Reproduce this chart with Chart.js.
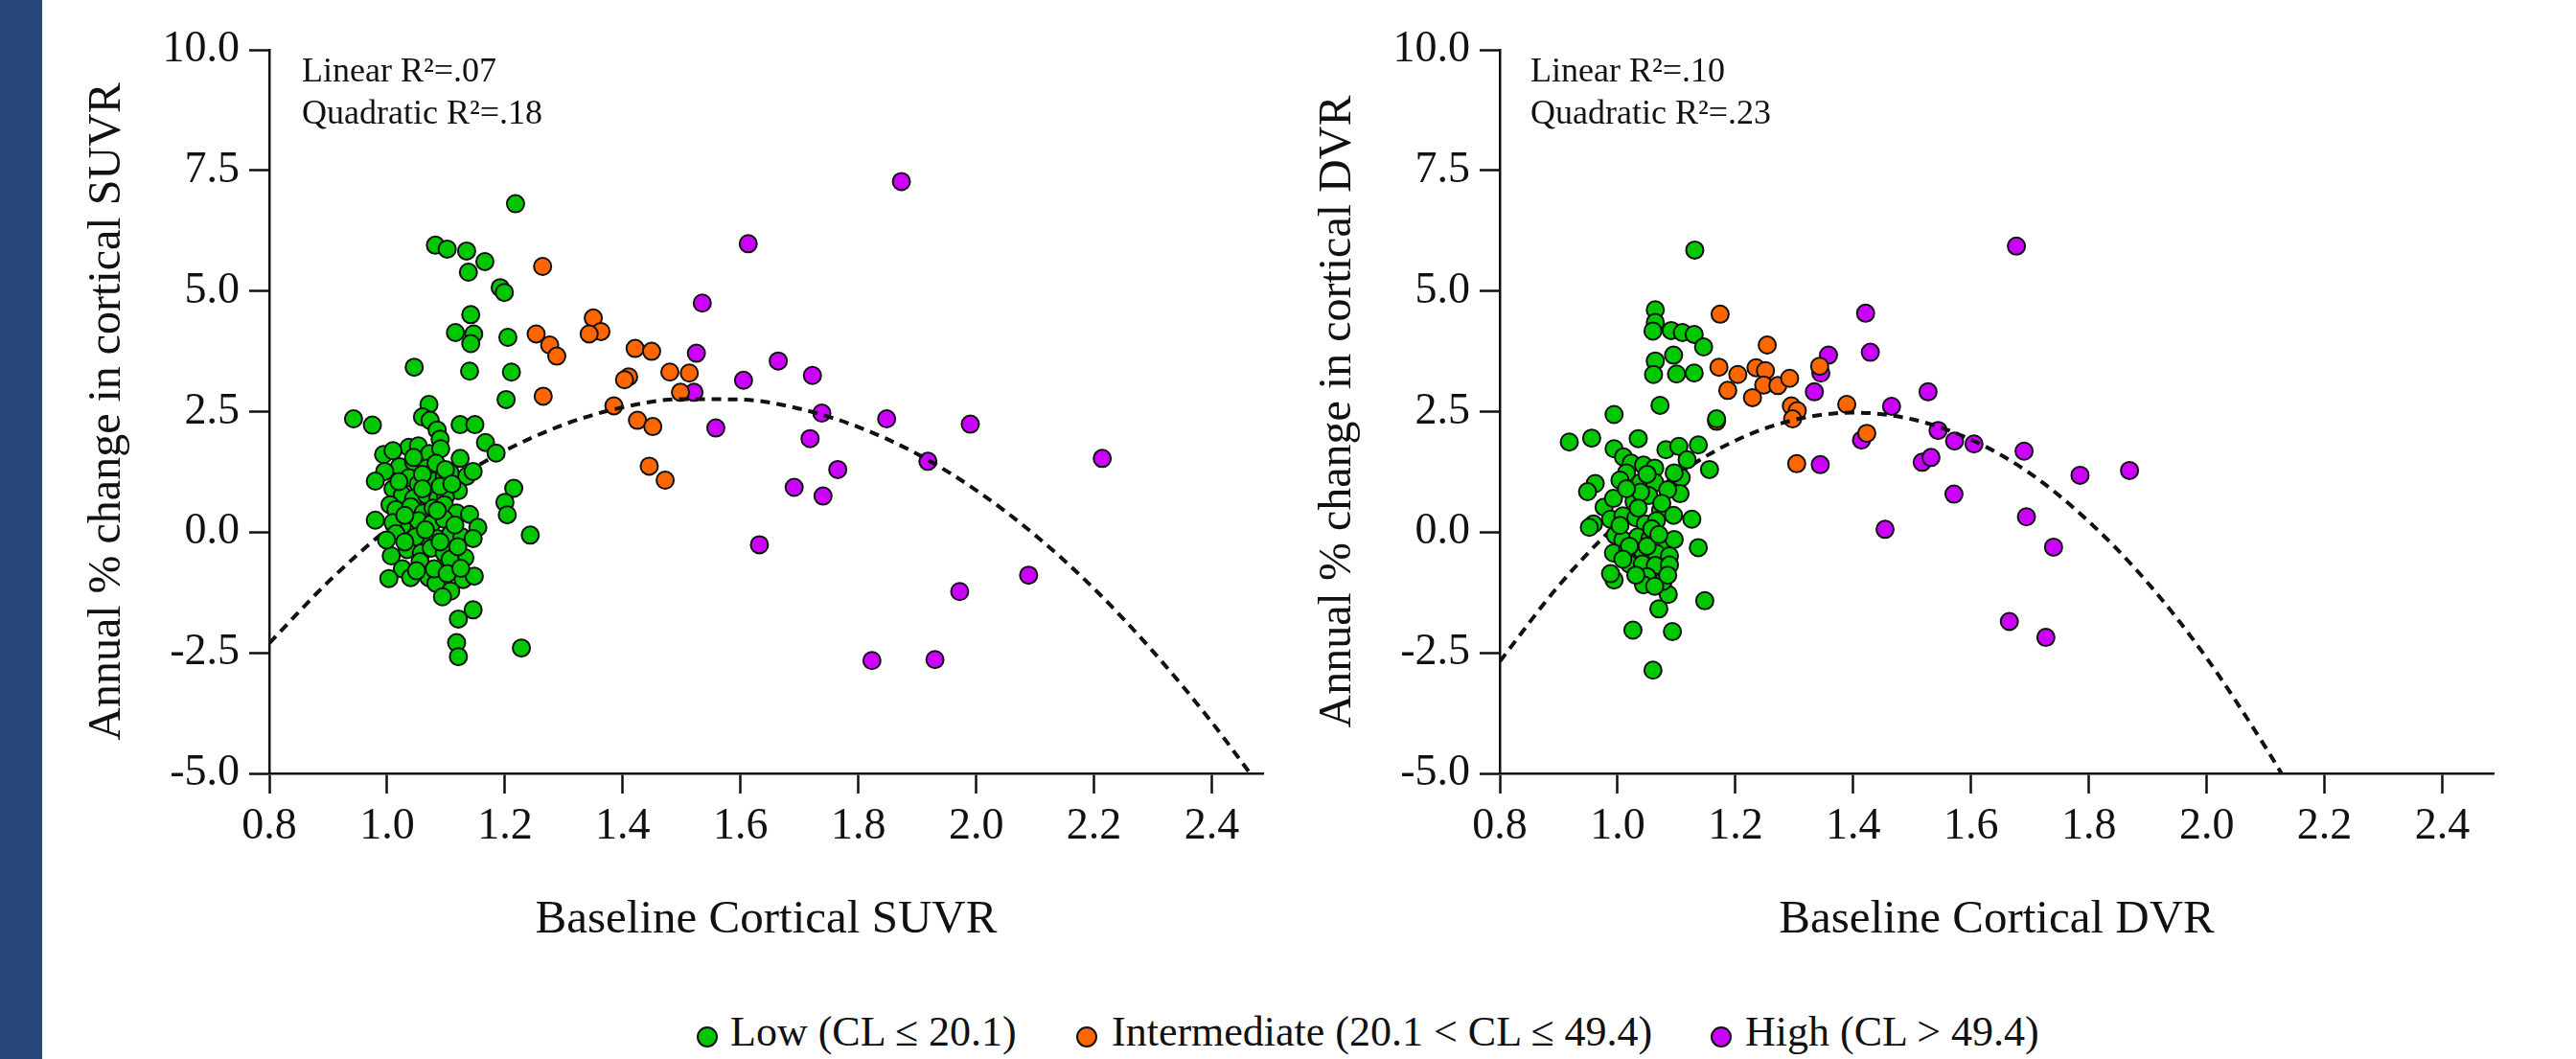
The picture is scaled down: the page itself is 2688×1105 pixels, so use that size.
<!DOCTYPE html>
<html><head><meta charset="utf-8">
<script src="https://cdn.jsdelivr.net/npm/chart.js@4.4.1/dist/chart.umd.min.js"></script>
<style>
html,body{margin:0;padding:0;background:#fff;}
body{width:2688px;height:1105px;position:relative;overflow:hidden;font-family:'Liberation Serif','Times New Roman',serif;color:#111;}
#bar{position:absolute;left:0;top:0;width:44px;height:1105px;background:#27467a;}
canvas{position:absolute;top:0;}
#c1{left:0;}
#c2{left:1284px;}
.ann{position:absolute;font-size:36px;line-height:36px;white-space:nowrap;}
.leg{position:absolute;top:1055px;font-size:44px;line-height:44px;white-space:nowrap;}
.dot{position:absolute;top:1071px;width:18px;height:18px;border:2px solid #111;border-radius:50%;}
</style></head>
<body>
<div id="bar"></div>
<canvas id="c1" width="1340" height="1005"></canvas>
<canvas id="c2" width="1340" height="1005"></canvas>
<div class="ann" style="left:315px;top:55px;">Linear R²=.07</div>
<div class="ann" style="left:315px;top:99px;">Quadratic R²=.18</div>
<div class="ann" style="left:1597px;top:55px;">Linear R²=.10</div>
<div class="ann" style="left:1597px;top:99px;">Quadratic R²=.23</div>
<div class="dot" style="left:727px;background:#00c800;"></div>
<div class="leg" style="left:762px;">Low (CL ≤ 20.1)</div>
<div class="dot" style="left:1123px;background:#ff6600;"></div>
<div class="leg" style="left:1160px;">Intermediate (20.1 &lt; CL ≤ 49.4)</div>
<div class="dot" style="left:1785px;background:#cc00ff;"></div>
<div class="leg" style="left:1821px;">High (CL &gt; 49.4)</div>
<script>
// ---------- data ----------
const xTickValues = [0.8, 1.0, 1.2, 1.4, 1.6, 1.8, 2.0, 2.2, 2.4];
const yTickValues = [-5.0, -2.5, 0.0, 2.5, 5.0, 7.5, 10.0];
const groupLabels = ['Low (CL ≤ 20.1)', 'Intermediate (20.1 < CL ≤ 49.4)', 'High (CL > 49.4)'];

// Left panel: baseline cortical SUVR
const suvrLowX = [1.218,1.082,1.102,1.135,1.166,1.138,1.192,1.199,1.142,1.116,1.147,1.142,1.205,1.046,1.140,1.211,1.202,1.071,1.060,1.073,0.943,0.975,1.124,1.149,1.085,1.167,1.185,1.090,0.994,1.037,1.053,1.072,1.091,1.021,1.045,1.067,0.996,0.980,1.037,1.053,1.078,1.097,1.135,1.146,1.121,1.010,1.026,1.045,1.067,1.086,1.099,1.005,1.015,1.040,1.061,1.078,1.097,0.980,1.026,1.010,1.118,1.140,1.154,1.053,1.075,1.097,1.061,1.086,1.108,1.127,1.146,1.048,1.034,1.058,1.075,1.007,1.097,1.113,1.132,1.107,1.056,1.026,1.040,1.003,1.071,1.083,1.129,1.148,1.108,1.094,1.146,1.121,1.118,1.121,1.228,1.215,1.200,1.204,1.243,1.124,1.107,1.010,1.083,1.099,1.015,0.999,1.080,1.102,1.020,1.060,1.030,1.090,1.065,1.030,1.115,1.050,1.090,1.120,1.085,1.045,1.110,1.060,1.125];
const suvrLowY = [6.81,5.95,5.87,5.83,5.61,5.39,5.07,4.97,4.51,4.14,4.11,3.91,4.04,3.42,3.34,3.32,2.75,2.65,2.39,2.32,2.35,2.22,2.23,2.23,2.12,1.86,1.64,1.93,1.61,1.76,1.79,1.63,1.73,1.36,1.46,1.33,1.26,1.06,1.13,1.00,1.06,1.16,1.16,1.26,0.86,0.90,0.77,0.70,0.77,0.70,0.73,0.57,0.47,0.53,0.40,0.50,0.57,0.25,0.14,0.20,0.40,0.37,0.10,0.24,0.17,0.27,-0.19,-0.13,-0.03,-0.10,-0.13,-0.10,-0.36,-0.43,-0.33,-0.49,-0.43,-0.66,-0.53,-0.56,-0.61,-0.76,-0.94,-0.96,-0.94,-1.06,-0.98,-0.91,-1.22,-1.34,-1.61,-1.80,-2.29,-2.58,-2.40,0.91,0.62,0.36,-0.06,1.53,1.23,1.69,1.43,1.30,-0.03,-0.16,-0.76,-0.86,1.05,1.20,0.35,0.95,0.05,-0.20,0.15,-0.80,-0.20,-0.30,0.45,1.55,1.00,0.90,-0.75];
const suvrMidX = [1.264,1.350,1.363,1.343,1.253,1.276,1.288,1.421,1.449,1.480,1.513,1.410,1.403,1.265,1.498,1.385,1.425,1.451,1.445,1.472];
const suvrMidY = [5.51,4.44,4.16,4.11,4.11,3.88,3.65,3.81,3.75,3.32,3.30,3.22,3.16,2.82,2.90,2.62,2.32,2.19,1.37,1.08];
const suvrHighX = [1.873,1.613,1.535,1.525,1.664,1.722,1.605,1.521,1.738,1.848,1.990,1.558,1.718,1.918,2.214,1.765,1.691,1.740,1.632,2.089,1.972,1.823,1.930];
const suvrHighY = [7.27,5.98,4.75,3.71,3.55,3.25,3.15,2.90,2.47,2.35,2.24,2.16,1.94,1.47,1.53,1.30,0.93,0.75,-0.26,-0.89,-1.23,-2.66,-2.64];
const suvrFitX = [0.8,0.9,1.0,1.1,1.2,1.3,1.4,1.5,1.6,1.7,1.8,1.9,2.0,2.1,2.2,2.3,2.4,2.465];
const suvrFitY = [-2.30,-1.03,0.06,0.97,1.69,2.23,2.59,2.76,2.75,2.56,2.18,1.62,0.87,-0.06,-1.17,-2.47,-3.94,-5.0];

// Right panel: baseline cortical DVR
const dvrLowX = [1.131,1.064,1.064,1.060,1.091,1.110,1.130,1.146,1.095,1.064,1.061,1.100,1.130,1.072,0.994,1.168,0.918,0.956,1.035,0.994,1.082,1.104,1.137,1.118,1.156,1.108,1.106,1.126,1.137,1.148,1.070,1.026,1.093,1.060,1.086,0.994,0.962,0.949,0.959,0.977,1.010,1.023,1.044,1.063,1.015,1.096,1.004,1.039,1.063,1.085,0.993,1.028,1.053,1.073,0.952,0.988,1.009,1.031,1.047,1.066,0.996,1.009,1.034,1.055,1.077,1.096,0.993,1.017,1.042,1.066,1.088,1.020,1.042,1.064,1.088,0.988,1.050,1.077,1.044,1.031,1.004,1.058,1.020,1.050,1.009,1.063,1.085,1.039,1.015,1.050,1.075,1.095,1.035,1.070];
const dvrLowY = [5.85,4.61,4.35,4.17,4.18,4.14,4.10,3.84,3.67,3.55,3.27,3.28,3.30,2.63,2.44,2.35,1.87,1.95,1.94,1.73,1.71,1.78,1.81,1.50,1.30,1.13,0.80,0.27,-0.32,-1.42,-1.59,-2.03,-2.06,-2.86,-1.29,-0.99,1.01,0.84,0.17,0.52,1.56,1.43,1.39,1.33,1.23,1.23,1.08,1.03,1.03,0.88,0.70,0.63,0.76,0.45,0.10,0.27,0.34,0.30,0.17,0.24,-0.06,-0.16,-0.10,-0.13,-0.19,-0.15,-0.43,-0.36,-0.39,-0.44,-0.49,-0.66,-0.66,-0.69,-0.68,-0.86,-0.92,-1.02,-1.09,-0.89,0.14,0.07,-0.29,-0.29,-0.56,-1.12,-0.89,0.83,0.90,1.20,0.60,0.35,0.50,-0.05];
const dvrMidX = [1.174,1.254,1.172,1.204,1.235,1.251,1.187,1.248,1.272,1.292,1.229,1.295,1.305,1.297,1.168,1.389,1.343,1.423,1.304];
const dvrMidY = [4.52,3.88,3.42,3.27,3.41,3.35,2.94,3.05,3.04,3.19,2.79,2.62,2.52,2.35,2.30,2.65,3.44,2.05,1.42];
const dvrHighX = [1.677,1.421,1.429,1.358,1.345,1.334,1.527,1.465,1.544,1.572,1.605,1.690,1.414,1.344,1.517,1.532,1.785,1.869,1.571,1.694,1.454,1.740,1.665,1.727];
const dvrHighY = [5.93,4.54,3.73,3.67,3.30,2.91,2.91,2.61,2.11,1.89,1.83,1.68,1.91,1.40,1.45,1.55,1.18,1.28,0.79,0.32,0.06,-0.31,-1.85,-2.18];
const dvrFitX = [0.8,0.9,1.0,1.1,1.2,1.3,1.4,1.5,1.6,1.7,1.8,1.9,2.0,2.1,2.127];
const dvrFitY = [-2.68,-1.11,0.18,1.18,1.90,2.33,2.48,2.34,1.92,1.22,0.22,-1.05,-2.61,-4.46,-5.0];

// ---------- drawing ----------
const FONT = "'Liberation Serif', 'Times New Roman', serif";
const INK = '#111111';
const zip = (xs, ys) => xs.map((x, i) => ({x: x, y: ys[i]}));

function pointSet(label, xs, ys, color, order) {
  return {type: 'scatter', label: label, data: zip(xs, ys), order: order,
    backgroundColor: color, borderColor: INK, pointRadius: 9, pointHoverRadius: 9,
    pointBorderWidth: 2, pointStyle: 'circle'};
}

function makeChart(id, low, mid, high, fit, xTitle, yTitle) {
  new Chart(document.getElementById(id), {
    type: 'scatter',
    data: {datasets: [
      pointSet(groupLabels[0], low[0], low[1], '#00c800', 0),
      {type: 'line', label: 'Quadratic fit', data: zip(fit[0], fit[1]), order: 1,
        borderColor: INK, borderWidth: 4, borderDash: [10, 7], pointRadius: 0,
        fill: false, cubicInterpolationMode: 'monotone'},
      pointSet(groupLabels[1], mid[0], mid[1], '#ff6600', 2),
      pointSet(groupLabels[2], high[0], high[1], '#cc00ff', 3)
    ]},
    options: {
      responsive: false, animation: false, devicePixelRatio: 1,
      layout: {padding: {left: 0, top: 52, right: 22, bottom: 0}},
      plugins: {legend: {display: false}, tooltip: {enabled: false}},
      scales: {
        x: {type: 'linear', min: 0.8, max: 2.487,
          afterBuildTicks: s => { s.ticks = xTickValues.map(v => ({value: v})); },
          afterFit: s => { s.height = 198; },
          border: {display: true, color: INK, width: 2.5},
          grid: {display: true, drawOnChartArea: false, drawTicks: true, tickLength: 21, tickColor: INK, tickWidth: 2.5},
          ticks: {color: INK, font: {family: FONT, size: 46}, padding: 7, maxRotation: 0, autoSkip: false,
            callback: v => Number(v).toFixed(1)},
          title: {display: true, text: xTitle, color: INK, font: {family: FONT, size: 49}, padding: {top: 0, bottom: 15}}
        },
        y: {type: 'linear', min: -5, max: 10,
          afterBuildTicks: s => { s.ticks = yTickValues.map(v => ({value: v})); },
          afterFit: s => { s.width = 281; },
          border: {display: true, color: INK, width: 2.5},
          grid: {display: true, drawOnChartArea: false, drawTicks: true, tickLength: 21, tickColor: INK, tickWidth: 2.5},
          ticks: {color: INK, font: {family: FONT, size: 46}, padding: 10, autoSkip: false,
            callback: v => Number(v).toFixed(1)},
          title: {display: true, text: yTitle, color: INK, font: {family: FONT, size: 48}, padding: {top: 84, bottom: 0}}
        }
      }
    }
  });
}

makeChart('c1', [suvrLowX, suvrLowY], [suvrMidX, suvrMidY], [suvrHighX, suvrHighY], [suvrFitX, suvrFitY],
  'Baseline Cortical SUVR', 'Annual % change in cortical SUVR');
makeChart('c2', [dvrLowX, dvrLowY], [dvrMidX, dvrMidY], [dvrHighX, dvrHighY], [dvrFitX, dvrFitY],
  'Baseline Cortical DVR', 'Annual % change in cortical DVR');
</script>
</body></html>
